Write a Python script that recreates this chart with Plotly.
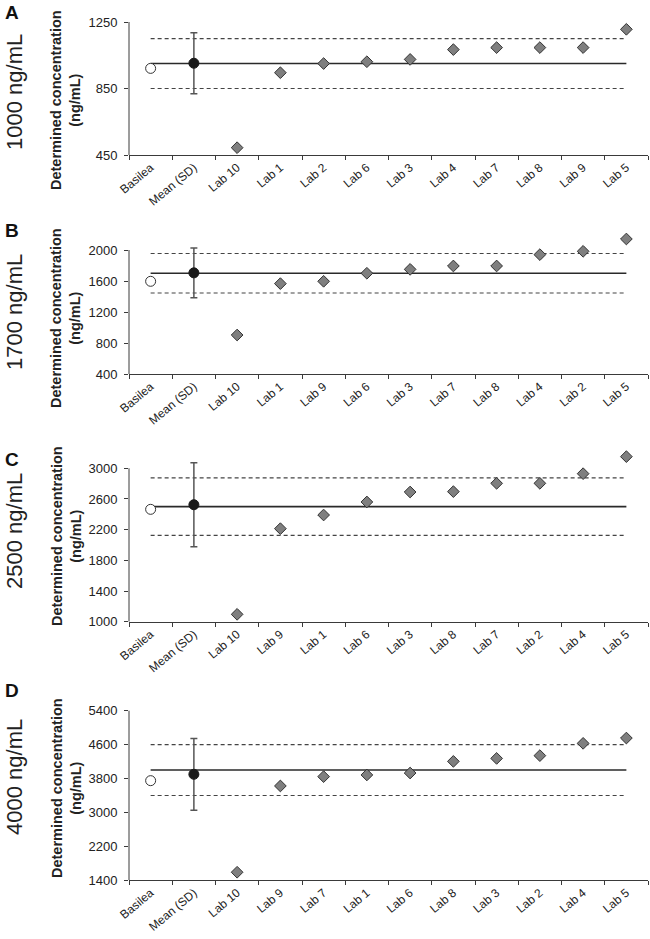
import plotly.graph_objects as go

W, H = 650, 939
OFF = 0  # body margin removed via post_script

# ---------------- data ----------------
panel_letters = ["A", "B", "C", "D"]
nominal_labels = ["1000 ng/mL", "1700 ng/mL", "2500 ng/mL", "4000 ng/mL"]
nominal = [1000, 1700, 2500, 4000]
upper_limit = [1150, 1955, 2875, 4600]
lower_limit = [850, 1445, 2125, 3400]

basilea = [971, 1596, 2465, 3750]
mean_vals = [1002, 1705, 2525, 3900]
mean_sd = [184, 320, 548, 846]

labs_A = ["Lab 10", "Lab 1", "Lab 2", "Lab 6", "Lab 3", "Lab 4", "Lab 7", "Lab 8", "Lab 9", "Lab 5"]
vals_A = [494, 945, 1000, 1011, 1025, 1084, 1096, 1096, 1096, 1206]

labs_B = ["Lab 10", "Lab 1", "Lab 9", "Lab 6", "Lab 3", "Lab 7", "Lab 8", "Lab 4", "Lab 2", "Lab 5"]
vals_B = [903, 1566, 1596, 1700, 1750, 1794, 1794, 1940, 1983, 2142]

labs_C = ["Lab 10", "Lab 9", "Lab 1", "Lab 6", "Lab 3", "Lab 8", "Lab 7", "Lab 2", "Lab 4", "Lab 5"]
vals_C = [1096, 2213, 2391, 2561, 2691, 2696, 2804, 2804, 2930, 3152]

labs_D = ["Lab 10", "Lab 9", "Lab 7", "Lab 1", "Lab 6", "Lab 8", "Lab 3", "Lab 2", "Lab 4", "Lab 5"]
vals_D = [1590, 3625, 3845, 3885, 3930, 4205, 4275, 4340, 4630, 4755]

y_ranges = [[450, 1250], [400, 2000], [1000, 3000], [1400, 5400]]
y_dticks = [400, 400, 400, 800]

lab_names = [labs_A, labs_B, labs_C, labs_D]
lab_vals = [vals_A, vals_B, vals_C, vals_D]

# ---------------- layout geometry (page pixels) ----------------
plot_x0, plot_x1 = 129, 648
panel_top = [22, 250, 468.3, 710.7]
panel_bot = [155, 374, 621.7, 880.3]
headroom = [0.1, 0.15, 0.15, 0.1]   # invisible space above the axis top so high points stay drawn
letter_y = [13, 231, 459, 690]
conc_y = [92, 312, 531, 777]
title_y = [100, 318, 536, 788]

FONT = "Liberation Sans, Arial, Helvetica, sans-serif"
AX = "#3a3a3a"

fig = go.Figure()
annotations = []
shapes = []

def px(x):
    return (x - OFF) / W

def py(y):
    return 1 - (y - OFF) / H

for i in range(4):
    sfx = "" if i == 0 else str(i + 1)
    xref = "x" + sfx
    yref = "y" + sfx
    cats = ["Basilea", "Mean (SD)"] + lab_names[i]
    ends = [cats[0], cats[-1]]
    y0, y1 = y_ranges[i]
    span = y1 - y0
    y_ext = y1 + headroom[i] * span
    top_px = panel_top[i] - headroom[i] * (panel_bot[i] - panel_top[i])

    for lim in (upper_limit[i], lower_limit[i]):
        fig.add_trace(go.Scatter(x=ends, y=[lim, lim], mode="lines",
                                 line=dict(color="#444444", width=1.2, dash="4px,3px"),
                                 xaxis=xref, yaxis=yref, showlegend=False, hoverinfo="skip"))
    fig.add_trace(go.Scatter(x=ends, y=[nominal[i], nominal[i]], mode="lines",
                             line=dict(color="#2a2a2a", width=1.6),
                             xaxis=xref, yaxis=yref, showlegend=False, hoverinfo="skip"))
    fig.add_trace(go.Scatter(x=lab_names[i], y=lab_vals[i], mode="markers",
                             marker=dict(symbol="diamond", size=9, color="#7f7f7f",
                                         line=dict(color="#333333", width=1)),
                             xaxis=xref, yaxis=yref, showlegend=False, cliponaxis=False))
    fig.add_trace(go.Scatter(x=["Basilea"], y=[basilea[i]], mode="markers",
                             marker=dict(symbol="circle", size=10, color="white",
                                         line=dict(color="#333333", width=1)),
                             xaxis=xref, yaxis=yref, showlegend=False, cliponaxis=False))
    fig.add_trace(go.Scatter(x=["Mean (SD)"], y=[mean_vals[i]], mode="markers",
                             marker=dict(symbol="circle", size=10, color="#1a1a1a",
                                         line=dict(color="#1a1a1a", width=1)),
                             error_y=dict(type="data", array=[mean_sd[i]], visible=True,
                                          color="#555555", thickness=1.5, width=3.5),
                             xaxis=xref, yaxis=yref, showlegend=False, cliponaxis=False))

    fig.layout["xaxis" + sfx] = dict(
        domain=[px(plot_x0), px(plot_x1)], anchor=yref,
        type="category", categoryorder="array", categoryarray=cats,
        range=[-0.5, len(cats) - 0.5], tickson="boundaries",
        ticks="outside", ticklen=4, tickcolor=AX, tickwidth=1,
        showline=True, linecolor=AX, linewidth=1, showgrid=False, zeroline=False,
        tickangle=-40, tickfont=dict(family=FONT, size=12, color="#222222"),
        fixedrange=True, automargin=False,
    )
    fig.layout["yaxis" + sfx] = dict(
        domain=[py(panel_bot[i]), py(top_px)], anchor=xref,
        range=[y0, y_ext], dtick=y_dticks[i], tick0=y0,
        ticks="outside", ticklen=4, tickcolor=AX, tickwidth=1,
        showline=False, showgrid=False, zeroline=False,
        tickfont=dict(family=FONT, size=13, color="#222222"), ticklabelstandoff=4,
        fixedrange=True, automargin=False,
    )
    # visible y-axis line only up to the top tick
    shapes.append(dict(type="line", xref=xref + " domain", yref=yref,
                       x0=0, x1=0, y0=y0, y1=y1,
                       line=dict(color=AX, width=1), layer="above"))

    annotations.append(dict(text="<b>" + panel_letters[i] + "</b>", xref="paper", yref="paper",
                            x=px(3), y=py(letter_y[i]), xanchor="left", yanchor="middle",
                            showarrow=False, font=dict(family=FONT, size=19, color="#111111")))
    annotations.append(dict(text=nominal_labels[i], xref="paper", yref="paper",
                            x=px(14), y=py(conc_y[i]), xanchor="center", yanchor="middle",
                            textangle=-90, showarrow=False,
                            font=dict(family=FONT, size=22, color="#222222")))
    annotations.append(dict(text="<b>Determined concentration<br>(ng/mL)</b>", xref="paper", yref="paper",
                            x=px(66), y=py(title_y[i]), xanchor="center", yanchor="middle",
                            textangle=-90, showarrow=False,
                            font=dict(family=FONT, size=14.5, color="#222222")))

fig.update_layout(
    template="none",
    width=W, height=H, autosize=False,
    margin=dict(l=0, r=0, t=0, b=0, pad=0),
    paper_bgcolor="white", plot_bgcolor="white",
    annotations=annotations, shapes=shapes, showlegend=False,
    font=dict(family=FONT),
)

fig.write_html("out.html", config=dict(displayModeBar=False),
               post_script="document.body.style.margin='0';document.body.style.padding='0';")
